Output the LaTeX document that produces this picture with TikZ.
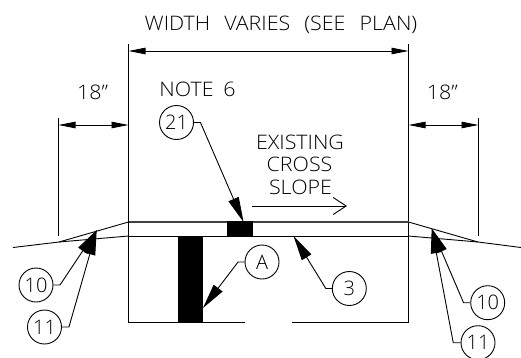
\documentclass[tikz,border=0pt]{standalone}
\usepackage{fontspec}
\setmainfont[UprightFont={* Light}]{Open Sans}
\usetikzlibrary{arrows.meta}
\newcommand{\cadwide}[1]{\scalebox{1.07}[1]{#1}}
\tikzset{
  every picture/.style={line join=miter},
  cadline/.style={draw=black,line width=0.9pt},
  heavyline/.style={draw=black!75,line width=1.5pt},
  dimline/.style={cadline,{Triangle[length=17pt,width=6.5pt]}-{Triangle[length=17pt,width=6.5pt]}},
  leader/.style={cadline,-{Triangle[length=25pt,width=11pt]}},
  slopearrow/.style={cadline,-{Straight Barb[length=13pt,width=17pt,line width=0.9pt]}},
  bubble/.style={circle,draw=black,line width=0.9pt,minimum size=34pt,inner sep=0pt,font=\fontsize{20}{20}\selectfont},
  cadtext/.style={inner sep=0pt,anchor=base,font=\fontsize{20}{20}\selectfont,text=black},
  solidblock/.style={fill=black,draw=none}
}
\begin{document}
\begin{tikzpicture}[x=1pt,y=-1pt]
\useasboundingbox (0,0) rectangle (521,357);
\fill[white] (0,0) rectangle (521,357);
% texts
\node[cadtext] (wtext) at (281,30) {\cadwide{WIDTH\hspace{8pt} VARIES\hspace{8pt} (SEE\hspace{8pt} PLAN)}};
\node[cadtext] (ltext) at (92.5,99.3) {\cadwide{18”}};
\node[cadtext] (rtext) at (442.3,99.3) {\cadwide{18”}};
\node[cadtext] (note) at (197.5,96.7) {\cadwide{NOTE\hspace{4pt} 6}};
\node[cadtext] (ex1) at (300,149) {\cadwide{EXISTING}};
\node[cadtext] (ex2) at (299.5,171.7) {\cadwide{CROSS}};
\node[cadtext] (ex3) at (300.5,194) {\cadwide{SLOPE}};
% reference lines
\coordinate (lt) at (128.5,44);
\coordinate (lb) at (128.5,322.5);
\coordinate (rt) at (408.5,44);
\coordinate (rb) at (408.5,322.5);
\coordinate (olt) at (58.5,118);
\coordinate (olb) at (58.5,236);
\coordinate (ort) at (478.5,118);
\coordinate (orb) at (478.5,236);
\draw[cadline] (lt) -- (lb) -- (245,322.5);
\draw[cadline] (292,322.5) -- (rb) -- (rt);
\draw[cadline] (olt) -- (olb);
\draw[cadline] (ort) -- (orb);
% dimensions
\coordinate (d1) at (128.5,51);
\coordinate (d2) at (408.5,51);
\draw[dimline] (d1) -- (d2);
\coordinate (d3) at (58.5,125);
\coordinate (d4) at (128.5,125);
\draw[dimline] (d3) -- (d4);
\coordinate (d5) at (408.5,125);
\coordinate (d6) at (478.5,125);
\draw[dimline] (d5) -- (d6);
% road section
\draw[heavyline] (128.5,222) -- (408.5,222);
\draw[cadline] (128.5,236) -- (408.5,236);
\draw[cadline] (128.5,222) -- (59,242) -- (13,247.5);
\draw[cadline] (128.5,236) -- (59,242);
\draw[cadline] (408.5,222) -- (478,242) -- (521,247.5);
\draw[cadline] (408.5,236) -- (478,242);
\fill[solidblock] (227,221) rectangle (253,236.5);
\fill[solidblock] (178,236) rectangle (203,323);
% slope arrow
\coordinate (s1) at (252,206);
\coordinate (s2) at (347,206);
\draw[slopearrow] (s1) -- (s2);
% bubbles
\node[bubble] (b21) at (176.5,122.5) {21};
\node[bubble] (b10l) at (36,285) {10};
\node[bubble] (b11l) at (44.5,327) {11};
\node[bubble] (bA) at (262,262) {A};
\node[bubble] (b3) at (349.3,288.5) {3};
\node[bubble] (b10r) at (487.7,302.7) {10};
\node[bubble] (b11r) at (478,342.7) {11};
% leader tips
\coordinate (t21) at (243.5,222);
\coordinate (tl) at (96.7,230);
\coordinate (tA) at (203,308);
\coordinate (t3) at (293.5,236);
\coordinate (tr) at (431.7,228.3);
\draw[leader] (b21.east) -- ++(6.5,0) -- (t21);
\draw[leader] (b10l.east) -- ++(6.5,0) -- (tl);
\draw[leader] (b11l.east) -- ++(7,0) -- (tl);
\draw[leader] (bA.west) -- ++(-6.5,0) -- (tA);
\draw[leader] (b3.west) -- ++(-6,0) -- (t3);
\draw[leader] (b10r.west) -- ++(-6.7,0) -- (tr);
\draw[leader] (b11r.west) -- ++(-7.3,0) -- (tr);
\end{tikzpicture}
\end{document}
